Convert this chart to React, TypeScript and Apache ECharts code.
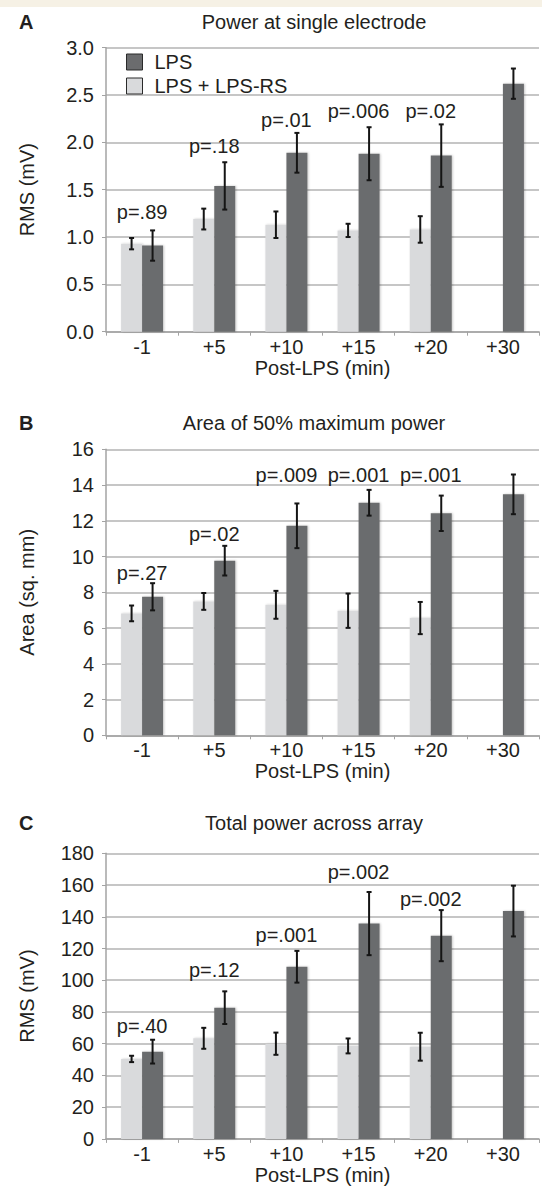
import React, { useEffect, useRef } from "react";
import * as echarts from "echarts";

const FONT = "'Liberation Sans', Arial, Helvetica, sans-serif";
const TXT = "#231f20";
const LIGHT = "#d9dadc";
const DARK = "#6b6c6e";
const GRIDC = "#b3b3b3";
const AXC = "#a3a3a3";
const FS = 20;

const categories = ["-1", "+5", "+10", "+15", "+20", "+30"];

// Panel A: Power at single electrode
const lpsA = [0.91, 1.54, 1.89, 1.88, 1.86, 2.62];
const lpsErrA = [0.16, 0.25, 0.21, 0.28, 0.33, 0.16];
const rsA = [0.93, 1.19, 1.13, 1.07, 1.08, null];
const rsErrA = [0.06, 0.11, 0.14, 0.07, 0.14, null];
const pTextA = ["p=.89", "p=.18", "p=.01", "p=.006", "p=.02"];
const pAtA = [1.26, 1.96, 2.24, 2.33, 2.33];

// Panel B: Area of 50% maximum power
const lpsB = [7.75, 9.77, 11.72, 13.01, 12.42, 13.48];
const lpsErrB = [0.76, 0.83, 1.25, 0.72, 0.99, 1.11];
const rsB = [6.82, 7.49, 7.3, 6.97, 6.56, null];
const rsErrB = [0.44, 0.47, 0.78, 0.96, 0.9, null];
const pTextB = ["p=.27", "p=.02", "p=.009", "p=.001", "p=.001"];
const pAtB = [9.06, 11.26, 14.55, 14.55, 14.55];

// Panel C: Total power across array
const lpsC = [55, 82.7, 108.5, 135.7, 128.1, 143.6];
const lpsErrC = [7.5, 10.3, 10, 19.9, 16.1, 16];
const rsC = [50.4, 63.4, 60, 58.6, 58.1, null];
const rsErrC = [2, 6.6, 7, 4.7, 8.8, null];
const pTextC = ["p=.40", "p=.12", "p=.001", "p=.002", "p=.002"];
const pAtC = [71.4, 106.5, 128.5, 168.4, 151];

const panels = [
  {
    letter: "A", title: "Power at single electrode", yName: "RMS (mV)",
    max: 3, interval: 0.5, dec: 1,
    lps: lpsA, lpsErr: lpsErrA, rs: rsA, rsErr: rsErrA, pText: pTextA, pAt: pAtA,
    grid: { left: 106, width: 433, top: 47.7, height: 284 }, titleY: 22,
  },
  {
    letter: "B", title: "Area of 50% maximum power", yName: "Area (sq. mm)",
    max: 16, interval: 2, dec: 0,
    lps: lpsB, lpsErr: lpsErrB, rs: rsB, rsErr: rsErrB, pText: pTextB, pAt: pAtB,
    grid: { left: 106, width: 433, top: 449.3, height: 286 }, titleY: 423,
  },
  {
    letter: "C", title: "Total power across array", yName: "RMS (mV)",
    max: 180, interval: 20, dec: 0,
    lps: lpsC, lpsErr: lpsErrC, rs: rsC, rsErr: rsErrC, pText: pTextC, pAt: pAtC,
    grid: { left: 106, width: 433, top: 853.3, height: 285.6 }, titleY: 823,
  },
];

const BAR_W = 21;

function errorSeries(gi: number, vals: (number | null)[], errs: (number | null)[], offset: number) {
  const data: number[][] = [];
  vals.forEach((v, i) => {
    if (v != null && errs[i] != null) data.push([i, v as number, errs[i] as number]);
  });
  return {
    type: "custom",
    xAxisIndex: gi,
    yAxisIndex: gi,
    z: 5,
    silent: true,
    encode: { x: 0, y: 1 },
    data,
    renderItem: (params: any, api: any) => {
      const i = api.value(0);
      const v = api.value(1);
      const e = api.value(2);
      const hi = api.coord([i, v + e]);
      const lo = api.coord([i, v - e]);
      const x = hi[0] + offset;
      const st = { stroke: "#151515", lineWidth: 2 };
      return {
        type: "group",
        children: [
          { type: "line", shape: { x1: x, y1: hi[1], x2: x, y2: lo[1] }, style: st },
          { type: "line", shape: { x1: x - 2.5, y1: hi[1], x2: x + 2.5, y2: hi[1] }, style: st },
          { type: "line", shape: { x1: x - 2.5, y1: lo[1], x2: x + 2.5, y2: lo[1] }, style: st },
        ],
      };
    },
  };
}

function pSeries(gi: number, texts: string[], at: number[]) {
  return {
    type: "custom",
    xAxisIndex: gi,
    yAxisIndex: gi,
    z: 6,
    silent: true,
    encode: { x: 0, y: 1 },
    data: at.map((y, i) => [i, y]),
    renderItem: (params: any, api: any) => {
      const p = api.coord([api.value(0), api.value(1)]);
      return {
        type: "text",
        x: p[0],
        y: p[1],
        style: {
          text: texts[params.dataIndex],
          fontSize: FS,
          fontFamily: FONT,
          fill: TXT,
          align: "center",
          verticalAlign: "middle",
        },
      };
    },
  };
}

function buildOption() {
  const grid: any[] = [];
  const xAxis: any[] = [];
  const yAxis: any[] = [];
  const series: any[] = [];
  const graphic: any[] = [
    { type: "rect", shape: { x: 0, y: 0, width: 542, height: 7 }, style: { fill: "#f6f1e5" }, z: 0 },
  ];

  panels.forEach((p, gi) => {
    grid.push({ ...p.grid, containLabel: false });
    xAxis.push({
      type: "category",
      gridIndex: gi,
      data: categories,
      axisLine: { show: true, lineStyle: { color: AXC, width: 1.5 } },
      axisTick: { show: true, length: 4, lineStyle: { color: AXC } },
      axisLabel: { fontSize: FS, fontFamily: FONT, color: TXT, margin: 5 },
      name: "Post-LPS (min)",
      nameLocation: "middle",
      nameGap: 25,
      nameTextStyle: { fontSize: FS, fontFamily: FONT, color: TXT },
    });
    yAxis.push({
      type: "value",
      gridIndex: gi,
      min: 0,
      max: p.max,
      interval: p.interval,
      axisLine: { show: true, lineStyle: { color: AXC, width: 1.5 } },
      axisTick: { show: true, length: 4, lineStyle: { color: AXC } },
      axisLabel: {
        fontSize: FS, fontFamily: FONT, color: TXT, margin: 12,
        formatter: (v: number) => v.toFixed(p.dec),
      },
      splitLine: { show: true, lineStyle: { color: GRIDC, width: 1.5 } },
      name: p.yName,
      nameLocation: "middle",
      nameGap: 69,
      nameTextStyle: { fontSize: FS, fontFamily: FONT, color: TXT },
    });
    const shadow = { shadowColor: "rgba(0,0,0,0.22)", shadowBlur: 2, shadowOffsetX: 1, shadowOffsetY: 0 };
    series.push({
      type: "bar",
      name: "LPS + LPS-RS",
      xAxisIndex: gi,
      yAxisIndex: gi,
      barWidth: BAR_W,
      barGap: "0%",
      itemStyle: { color: LIGHT, ...shadow },
      data: p.rs.map((v) => (v == null ? "-" : v)),
    });
    series.push({
      type: "bar",
      name: "LPS",
      xAxisIndex: gi,
      yAxisIndex: gi,
      barWidth: BAR_W,
      barGap: "0%",
      itemStyle: { color: DARK, ...shadow },
      data: p.lps,
    });
    series.push(errorSeries(gi, p.rs, p.rsErr, -BAR_W / 2));
    series.push(errorSeries(gi, p.lps, p.lpsErr, BAR_W / 2));
    series.push(pSeries(gi, p.pText, p.pAt));

    graphic.push({
      type: "text",
      x: 314,
      y: p.titleY,
      style: {
        text: p.title, fontSize: FS, fontFamily: FONT, fill: TXT,
        align: "center", verticalAlign: "middle", textAlign: "center", textVerticalAlign: "middle",
      },
    });
    graphic.push({
      type: "text",
      x: 19,
      y: p.titleY,
      style: {
        text: p.letter, fontSize: FS, fontWeight: "bold", fontFamily: FONT, fill: TXT,
        align: "left", verticalAlign: "middle", textAlign: "left", textVerticalAlign: "middle",
      },
    });
  });

  return {
    animation: false,
    backgroundColor: "#ffffff",
    textStyle: { fontFamily: FONT },
    grid,
    xAxis,
    yAxis,
    series,
    graphic,
    legend: {
      data: ["LPS", "LPS + LPS-RS"],
      orient: "vertical",
      left: 121,
      top: 47,
      itemWidth: 16,
      itemHeight: 16,
      itemGap: 4,
      icon: "rect",
      selectedMode: false,
      itemStyle: { borderColor: "#2a2a2a", borderWidth: 1, shadowBlur: 0, shadowOffsetX: 0 },
      textStyle: { fontSize: FS, fontFamily: FONT, color: TXT, padding: [0, 0, 0, 7] },
    },
  };
}

export default function App() {
  const ref = useRef<HTMLDivElement>(null);
  useEffect(() => {
    if (!ref.current) return;
    const chart = echarts.init(ref.current, null, { renderer: "svg" });
    chart.setOption(buildOption() as any);
    return () => chart.dispose();
  }, []);
  return (
    <div
      ref={ref}
      style={{ position: "absolute", left: 0, top: 0, width: 542, height: 1194, background: "#fff" }}
    />
  );
}
